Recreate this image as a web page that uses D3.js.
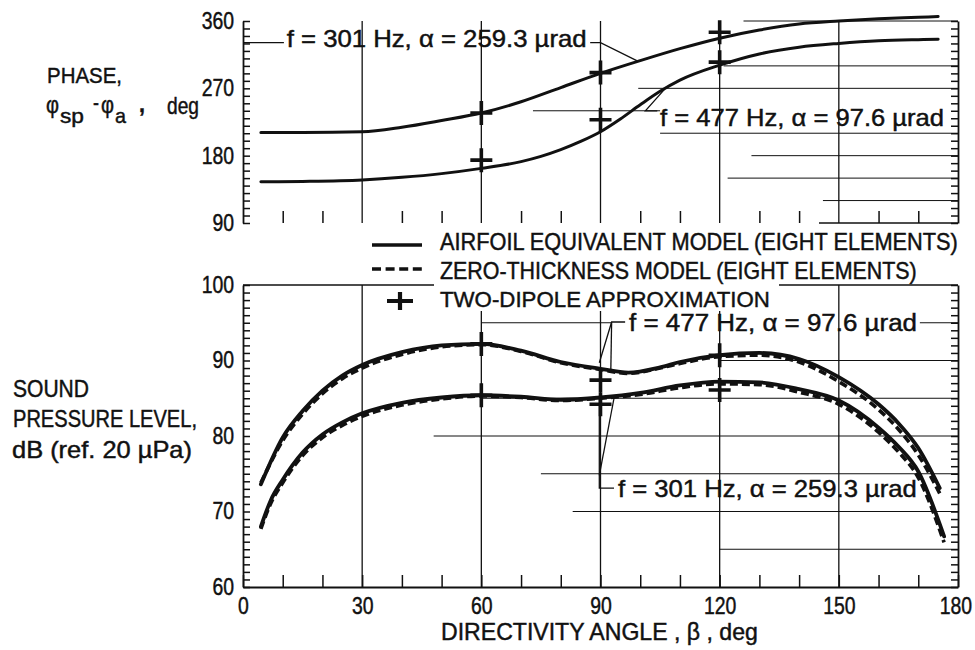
<!DOCTYPE html>
<html><head><meta charset="utf-8">
<script src="https://cdn.jsdelivr.net/npm/d3@7"></script>
<style>
body{margin:0;background:#fff}
svg text{font-family:"Liberation Sans",Arial,sans-serif;fill:#111;stroke:#111;stroke-width:0.45px}
.tk text{font-size:23px}
.lbl{font-size:23px}
</style></head><body><svg id="c" width="975" height="650"></svg>
<script>
// ---------- data ----------
const angleTicks = [0,30,60,90,120,150,180];
const phaseTicks = [90,180,270,360];
const splTicks = [60,70,80,90,100];

const phaseAngle301 = [4.5,15,30,40,50,60,70,80,90,100,110,120,130,140,150,160,170,175];
const phase301 = [211,211,212,218,227,237,252,271,290,307,323,337,348,356,360,363,365,366];
const phaseAngle477 = [4.5,15,30,40,50,60,70,75,80,85,90,95,100,105,110,120,130,140,150,160,170,175];
const phase477 = [145,145.5,147.5,151,156,163,172,179,188,199,212,229,248,266,281,301,316,325,330,333.5,335,335.5];

const splAngle477 = [4.5,10,15,20,25,30,40,50,60,70,80,90,97,105,110,120,130,140,150,160,165,170,175.4];
const splSolid477 = [73.6,79.8,83.3,86.0,88.0,89.4,91.1,92.0,92.2,91.3,89.8,88.9,88.4,89.1,89.8,90.7,91.0,90.2,87.8,84.2,81.7,78.4,73.1];
const splDashed477 = [73.8,79.4,82.9,85.6,87.6,89.0,90.8,91.8,92.1,91.2,89.7,88.8,88.3,89.0,89.6,90.5,90.7,89.8,87.2,83.5,80.9,77.5,72.4];
const splAngle301 = [4.5,7,10,15,20,25,30,40,50,60,70,80,90,100,110,120,130,140,150,160,165,170,176.5];
const splSolid301 = [68.0,71.5,74.2,77.8,80.2,81.8,83.0,84.4,85.1,85.4,85.2,84.8,85.1,85.7,86.7,87.2,87.1,86.2,84.7,81.1,78.6,75.3,66.7];
const splDashed301 = [67.7,71.1,73.8,77.4,79.8,81.4,82.6,84.1,84.9,85.3,85.1,84.7,85.0,85.5,86.4,86.9,86.8,85.8,84.2,80.5,77.9,74.5,65.9];

const phaseMarkAngle = [60,60,90,90,120,120];
const phaseMarkValue = [237,174,291,228,345,305];
const splMarkAngle = [60,60,90,90,120,120];
const splMarkValue = [92.2,85.4,87.4,84.2,90.7,86.1];

const legendLabels = ["AIRFOIL EQUIVALENT MODEL (EIGHT ELEMENTS)","ZERO-THICKNESS MODEL (EIGHT ELEMENTS)","TWO-DIPOLE APPROXIMATION"];
const label301 = "f = 301 Hz, α = 259.3 µrad";
const label477 = "f = 477 Hz, α = 97.6 µrad";

// ---------- scales ----------
const svg = d3.select("#c");
const x = d3.scaleLinear([0,180],[243,958]);
const yP = d3.scaleLinear([90,360],[223,21]);
const yS = d3.scaleLinear([60,100],[587,285]);
const ink = "#111";

function seg(g, pts, w){
  g.append("path").attr("d", d3.line()(pts)).attr("fill","none").attr("stroke",ink).attr("stroke-width",w||1.2);
}
// condensed text: glyphs squeezed horizontally to a given width
function ctext(g, xx, yy, t, w, size){
  const gg = g.append("g").attr("transform",`translate(${xx},${yy})`);
  const el = gg.append("text").text(t);
  if(size) el.attr("font-size",size);
  if(w){
    const nat = el.node().getComputedTextLength();
    gg.attr("transform",`translate(${xx},${yy}) scale(${(w/nat).toFixed(4)},1)`);
  }
  return el;
}

// ---------- grid ----------
const grid = svg.append("g");
[30,60,90,120,150].forEach(a=>{
  seg(grid,[[x(a),yP(360)],[x(a),yP(90)]],1.3);
  seg(grid,[[x(a),yS(100)],[x(a),yS(60)]],1.3);
});
const topRules = [[300,121,180],[270,99.5,180],[240,73,105],[210,105,180],[180,128,180],[150,122,180],[120,146,180],[360,126,180]];
topRules.forEach(r=>seg(grid,[[x(r[1]),yP(r[0])],[x(r[2]),yP(r[0])]],1));
const botRules = [[95,60,92.8],[95,170.4,180],[90,120,180],[85,60,180],[80,48,180],[75,75,180],[70,83,180],[65,120,180]];
botRules.forEach(r=>seg(grid,[[x(r[1]),yS(r[0])],[x(r[2]),yS(r[0])]],1));

// ---------- axes ----------
function styleAxis(g){
  g.select(".domain").attr("stroke",ink).attr("stroke-width",1.8);
  g.selectAll(".tick line").attr("stroke",ink).attr("stroke-width",1.5);
  g.attr("font-family",null).attr("font-size",null).attr("class","tk");
  g.selectAll(".tick text").each(function(){
    const n = this.textContent.length;
    if(!n) return;
    const nat = this.getComputedTextLength();
    const sx = n*10.8/nat;
    const t = d3.select(this);
    t.attr("x",(+t.attr("x")||0)/sx).attr("transform",`scale(${sx.toFixed(4)},1)`);
  });
}
const minorAngles = d3.range(10,180,10).filter(a=>a%30!==0);
svg.append("g").attr("transform","translate(243,0)")
  .call(d3.axisLeft(yP).tickValues(d3.range(90,361,10)).tickSize(-7).tickSizeOuter(0).tickPadding(9)
    .tickFormat(d=>phaseTicks.includes(d)?d:"")).call(styleAxis);
svg.append("g").attr("transform","translate(958,0)")
  .call(d3.axisRight(yP).tickValues(d3.range(90,361,10)).tickSize(-7).tickSizeOuter(0).tickFormat("")).call(styleAxis);
const tb = svg.append("g").attr("transform","translate(0,223)")
  .call(d3.axisBottom(x).tickValues(minorAngles).tickSize(-12).tickSizeOuter(0).tickFormat("")).call(styleAxis);
tb.select(".domain").remove();
seg(svg,[[x(145),yP(90)],[x(180),yP(90)]],1.5);

svg.append("g").attr("transform","translate(243,0)")
  .call(d3.axisLeft(yS).tickValues(d3.range(60,101,1)).tickSize(-7).tickSizeOuter(0).tickPadding(9)
    .tickFormat(d=>splTicks.includes(d)?d:"")).call(styleAxis);
svg.append("g").attr("transform","translate(958,0)")
  .call(d3.axisRight(yS).tickValues(d3.range(60,101,1)).tickSize(-7).tickSizeOuter(0).tickFormat("")).call(styleAxis);
const xb = svg.append("g").attr("transform","translate(0,587)")
  .call(d3.axisBottom(x).tickValues(d3.range(0,181,10)).tickSize(-12).tickSizeOuter(0).tickPadding(11)
    .tickFormat(d=>angleTicks.includes(d)?d:"")).call(styleAxis);
xb.selectAll(".tick").filter(d=>d===180).select("text").attr("x",-3);
seg(svg,[[x(0),yS(100)],[x(180),yS(100)]],1.5);

// ---------- legend ----------
const lg = svg.append("g").attr("class","lbl");
lg.append("rect").attr("x",434).attr("y",284).attr("width",345).attr("height",27).attr("fill","#fff");
seg(lg,[[372,245],[422,245]],3.5);
lg.append("line").attr("x1",372).attr("x2",422).attr("y1",269).attr("y2",269)
  .attr("stroke",ink).attr("stroke-width",3.5).attr("stroke-dasharray","9,4.6");
lg.append("path").attr("d","M387,301H413M400,292V310").attr("stroke",ink).attr("stroke-width",4.2);
const lw = [518,477,330], lb=[250,279,307];
legendLabels.forEach((t,i)=>ctext(lg,440,lb[i],t,lw[i]));

// ---------- curves ----------
const lineP = d3.line().x(d=>x(d[0])).y(d=>yP(d[1])).curve(d3.curveMonotoneX);
const lineS = d3.line().x(d=>x(d[0])).y(d=>yS(d[1])).curve(d3.curveMonotoneX);
const curves = svg.append("g").attr("fill","none").attr("stroke",ink).attr("stroke-linecap","round");
curves.append("path").attr("d",lineP(d3.zip(phaseAngle301,phase301))).attr("stroke-width",3);
curves.append("path").attr("d",lineP(d3.zip(phaseAngle477,phase477))).attr("stroke-width",3);
curves.append("path").attr("d",lineS(d3.zip(splAngle477,splDashed477))).attr("stroke-width",3.6).attr("stroke-dasharray","8,4").attr("stroke-linecap","butt");
curves.append("path").attr("d",lineS(d3.zip(splAngle301,splDashed301))).attr("stroke-width",3.6).attr("stroke-dasharray","8,4").attr("stroke-linecap","butt");
curves.append("path").attr("d",lineS(d3.zip(splAngle477,splSolid477))).attr("stroke-width",3.8);
curves.append("path").attr("d",lineS(d3.zip(splAngle301,splSolid301))).attr("stroke-width",3.8);

// ---------- markers ----------
const plus = "M-11,0H11M0,-12V12";
d3.zip(phaseMarkAngle,phaseMarkValue).forEach(d=>svg.append("path").attr("d",plus)
  .attr("transform",`translate(${x(d[0])},${yP(d[1])})`).attr("stroke",ink).attr("stroke-width",3.6));
d3.zip(splMarkAngle,splMarkValue).forEach(d=>svg.append("path").attr("d",plus)
  .attr("transform",`translate(${x(d[0])},${yS(d[1])})`).attr("stroke",ink).attr("stroke-width",3.6));

// ---------- curve labels ----------
const an = svg.append("g").attr("class","lbl");
function ptP(a,v){return [x(a),yP(v)];}
function ptS(a,v){return [x(a),yS(v)];}
seg(an,[ptP(0,331),ptP(10.3,331)],1.3);
ctext(an,x(11),yP(325.8),label301,300);
seg(an,[ptP(87.4,331),ptP(90,331),ptP(99.5,306)],1.3);
seg(an,[ptP(106,268),ptP(101.3,240),ptP(104.3,240)],1.3);
ctext(an,x(105),yP(219.5),label477,284);
seg(an,[ptS(89.7,89.7),ptS(92.8,95.1),ptS(96.2,95.1)],1.3);
seg(an,[ptS(92.6,88.8),ptS(92.8,95.1)],1.3);
ctext(an,x(97.2),yS(93.85),label477,288);
seg(an,[ptS(89.7,85.0),ptS(89.7,73.1),ptS(93.4,73.1)],1.3);
seg(an,[ptS(89.7,74.8),ptS(93.4,85.0)],1.3);
ctext(an,x(94.4),yS(71.9),label301,299);

// ---------- axis titles ----------
const tt = svg.append("g").attr("class","lbl");
ctext(tt,47,83,"PHASE,",75);
ctext(tt,46,113,"φ",13,24);
ctext(tt,60,123,"sp",24,21);
ctext(tt,93,110,"-",6);
ctext(tt,101,113,"φ",13,24);
ctext(tt,115,123,"a",11,21);
ctext(tt,139,112,",",6).attr("font-weight","bold");
ctext(tt,167,114,"deg",32);

ctext(tt,13,397,"SOUND",76);
ctext(tt,13,427,"PRESSURE LEVEL,",184);
ctext(tt,12,458,"dB (ref.  20 µPa)",180);

ctext(tt,441,640,"DIRECTIVITY ANGLE , β , deg",317);
</script></body></html>
